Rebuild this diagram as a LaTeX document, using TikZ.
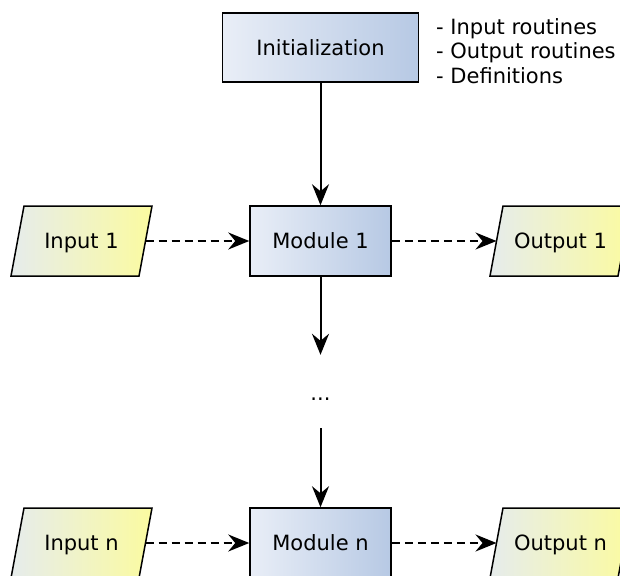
\documentclass[tikz,border=0pt]{standalone}
\usepackage{fontspec}
\setmainfont{DejaVu Sans}
\usetikzlibrary{arrows.meta}
\definecolor{modL}{RGB}{233,238,247}
\definecolor{modR}{RGB}{183,201,228}
\definecolor{ioL}{RGB}{230,236,236}
\definecolor{ioR}{RGB}{251,251,160}
\begin{document}
\begin{tikzpicture}[x=1pt,y=-1pt,
  font=\fontsize{21}{24.5}\selectfont,
  lbl/.style={inner sep=0pt, text height=15.3pt, text depth=0pt},
  box/.style={lbl, draw, line width=1.5pt, left color=modL, right color=modR,
    minimum width=141pt, minimum height=70pt},
  io/.style={draw, line width=1.5pt, left color=ioL, right color=ioR},
  flow/.style={line width=2pt, -{Stealth[length=21pt, width=17pt, inset=7pt]}},
  dflow/.style={flow, dash pattern=on 8pt off 5pt}]
\useasboundingbox (0,0) rectangle (620,575);

% initialization
\node[box, minimum width=196pt, minimum height=69pt] (init) at (320.5,47.5) {Initialization};
\node[anchor=west, align=left, inner sep=0pt] (notes) at (436,51) {- Input routines\\- Output routines\\- Definitions};

% modules
\node[box] (m1) at (320.5,241) {Module 1};
\node[inner sep=0pt, minimum height=73pt, text height=18pt, text depth=0pt] (dots) at (320.5,391.5) {...};
\node[box] (mn) at (320.5,543) {Module n};

% input / output parallelograms
\shade[io] (11,276) -- (139,276) -- (152,206) -- (24,206) -- cycle;
\node[lbl] (in1) at (81.5,241) {Input 1};
\coordinate (in1r) at (145.5,241);
\shade[io] (490,276) -- (618,276) -- (631,206) -- (503,206) -- cycle;
\node[lbl] (out1) at (560.5,241) {Output 1};
\coordinate (out1l) at (496.5,241);

\shade[io] (11,578) -- (139,578) -- (152,508) -- (24,508) -- cycle;
\node[lbl] (inn) at (81.5,543) {Input n};
\coordinate (innr) at (145.5,543);
\shade[io] (490,578) -- (618,578) -- (631,508) -- (503,508) -- cycle;
\node[lbl] (outn) at (560.5,543) {Output n};
\coordinate (outnl) at (496.5,543);

% connectors
\draw[flow] (init) -- (m1);
\draw[flow] (m1) -- (dots);
\draw[flow] (dots) -- (mn);
\draw[dflow] (in1r) -- (m1);
\draw[dflow] (m1) -- (out1l);
\draw[dflow] (innr) -- (mn);
\draw[dflow] (mn) -- (outnl);
\end{tikzpicture}
\end{document}
